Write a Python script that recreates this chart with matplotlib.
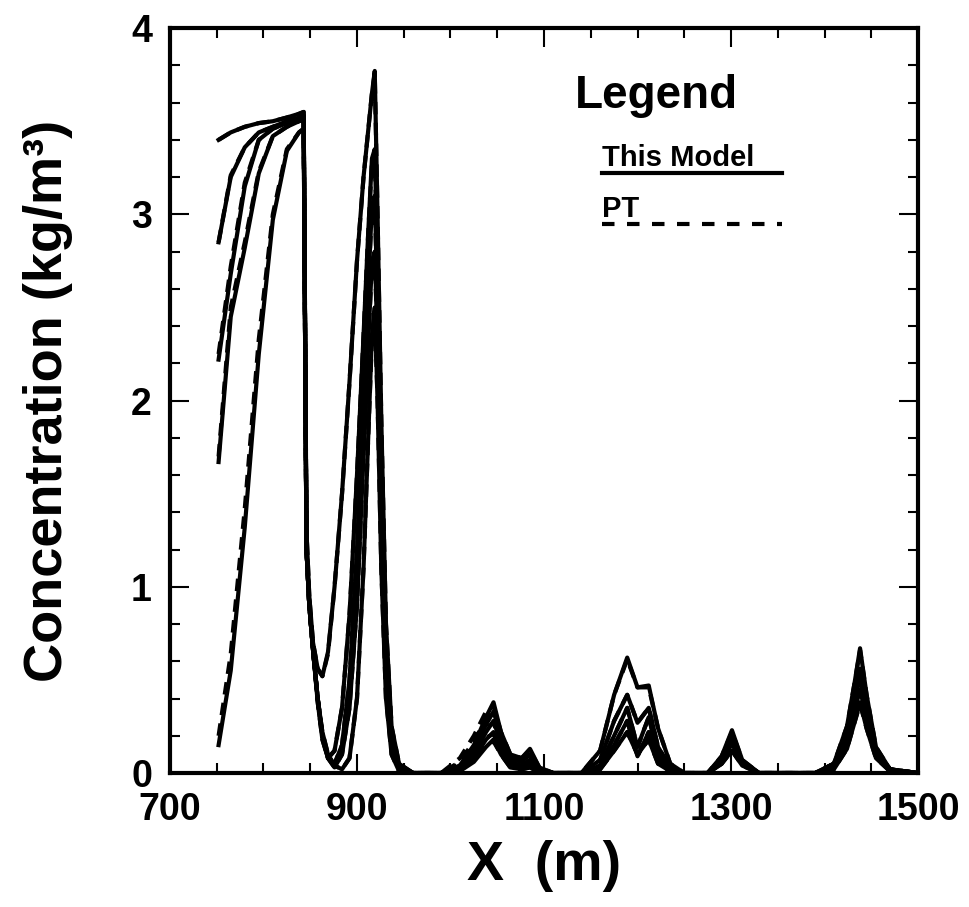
import matplotlib
matplotlib.use("Agg")
import matplotlib.pyplot as plt
from matplotlib.ticker import MultipleLocator

plt.rcParams['font.family'] = ['Liberation Sans', 'DejaVu Sans']
plt.rcParams['font.weight'] = 'bold'

x_left = [752, 765, 780, 795, 810, 825, 838, 843, 846, 849, 853, 858, 863, 869,
          876, 884, 892, 900, 907, 912, 916, 919, 922, 926, 931, 937, 945, 960]
x_right = [990, 1010, 1025, 1038, 1046, 1054, 1064, 1076, 1085, 1095, 1110, 1140,
           1160, 1175, 1189, 1200, 1212, 1222, 1235, 1250, 1275, 1290, 1301, 1312,
           1330, 1390, 1410, 1424, 1432, 1438, 1445, 1455, 1470, 1500]
x = x_left + x_right

# concentration (kg/m3), "This Model"
model_1 = [3.40, 3.44, 3.47, 3.49, 3.50, 3.52, 3.54, 3.55, 1.30, 0.95, 0.70, 0.56, 0.52, 0.65,
           1.00, 1.50, 2.10, 2.75, 3.20, 3.45, 3.65, 3.77, 3.00, 1.90, 0.80, 0.25, 0.05, 0.00] + \
          [0.00, 0.04, 0.15, 0.30, 0.38, 0.22, 0.10, 0.08, 0.13, 0.03, 0.00, 0.00,
           0.12, 0.42, 0.62, 0.46, 0.47, 0.24, 0.05, 0.00, 0.00, 0.05, 0.12, 0.04,
           0.00, 0.00, 0.05, 0.22, 0.40, 0.52, 0.34, 0.12, 0.02, 0.00]
model_2 = [2.85, 3.20, 3.36, 3.44, 3.47, 3.50, 3.52, 3.53, 1.20, 0.90, 0.66, 0.38, 0.18, 0.08,
           0.12, 0.35, 0.85, 1.60, 2.35, 2.90, 3.30, 3.35, 2.70, 1.70, 0.70, 0.20, 0.04, 0.00] + \
          [0.00, 0.03, 0.12, 0.26, 0.33, 0.20, 0.08, 0.06, 0.10, 0.02, 0.00, 0.00,
           0.07, 0.28, 0.42, 0.27, 0.35, 0.14, 0.03, 0.00, 0.00, 0.08, 0.18, 0.06,
           0.00, 0.00, 0.05, 0.25, 0.48, 0.67, 0.42, 0.14, 0.02, 0.00]
model_3 = [2.22, 2.68, 3.15, 3.40, 3.46, 3.49, 3.51, 3.52, 1.20, 0.90, 0.66, 0.40, 0.20, 0.08,
           0.05, 0.15, 0.50, 1.20, 2.00, 2.60, 3.05, 3.10, 2.50, 1.50, 0.60, 0.18, 0.03, 0.00] + \
          [0.00, 0.02, 0.10, 0.22, 0.28, 0.16, 0.06, 0.04, 0.07, 0.01, 0.00, 0.00,
           0.04, 0.20, 0.35, 0.14, 0.30, 0.10, 0.02, 0.00, 0.00, 0.09, 0.23, 0.07,
           0.00, 0.00, 0.04, 0.20, 0.40, 0.56, 0.36, 0.12, 0.02, 0.00]
model_4 = [1.67, 2.45, 2.82, 3.22, 3.42, 3.47, 3.50, 3.51, 1.20, 0.90, 0.66, 0.40, 0.20, 0.08,
           0.03, 0.10, 0.35, 0.90, 1.70, 2.30, 2.75, 2.80, 2.30, 1.40, 0.55, 0.15, 0.03, 0.00] + \
          [0.00, 0.02, 0.08, 0.18, 0.22, 0.12, 0.04, 0.03, 0.05, 0.01, 0.00, 0.00,
           0.03, 0.15, 0.28, 0.09, 0.22, 0.07, 0.01, 0.00, 0.00, 0.07, 0.20, 0.06,
           0.00, 0.00, 0.03, 0.16, 0.33, 0.45, 0.29, 0.10, 0.01, 0.00]
model_5 = [0.15, 0.55, 1.32, 2.25, 2.97, 3.34, 3.44, 3.46, 1.20, 0.90, 0.66, 0.40, 0.22, 0.10,
           0.04, 0.02, 0.08, 0.40, 1.10, 1.80, 2.35, 2.50, 2.00, 1.10, 0.40, 0.10, 0.01, 0.00] + \
          [0.00, 0.01, 0.06, 0.14, 0.18, 0.10, 0.03, 0.02, 0.03, 0.00, 0.00, 0.00,
           0.02, 0.12, 0.22, 0.10, 0.18, 0.05, 0.01, 0.00, 0.00, 0.05, 0.16, 0.05,
           0.00, 0.00, 0.02, 0.13, 0.27, 0.38, 0.24, 0.08, 0.01, 0.00]

# concentration (kg/m3), "PT"
pt_1 = [3.40, 3.44, 3.47, 3.49, 3.50, 3.52, 3.54, 3.55, 1.30, 0.95, 0.70, 0.56, 0.52, 0.64,
        1.00, 1.50, 2.10, 2.75, 3.20, 3.45, 3.65, 3.76, 3.00, 1.90, 0.80, 0.25, 0.05, 0.00] + \
       [0.00, 0.08, 0.20, 0.33, 0.36, 0.22, 0.10, 0.08, 0.12, 0.03, 0.00, 0.00,
        0.12, 0.42, 0.61, 0.46, 0.46, 0.24, 0.05, 0.00, 0.00, 0.05, 0.12, 0.04,
        0.00, 0.00, 0.05, 0.22, 0.40, 0.51, 0.34, 0.12, 0.02, 0.00]
pt_2 = [2.85, 3.21, 3.36, 3.44, 3.47, 3.50, 3.52, 3.53, 1.20, 0.90, 0.66, 0.38, 0.18, 0.08,
        0.12, 0.35, 0.85, 1.60, 2.35, 2.90, 3.28, 3.33, 2.70, 1.70, 0.70, 0.20, 0.04, 0.00] + \
       [0.00, 0.06, 0.17, 0.29, 0.32, 0.20, 0.08, 0.06, 0.10, 0.02, 0.00, 0.00,
        0.07, 0.28, 0.42, 0.27, 0.35, 0.14, 0.03, 0.00, 0.00, 0.08, 0.18, 0.06,
        0.00, 0.00, 0.05, 0.25, 0.48, 0.66, 0.42, 0.14, 0.02, 0.00]
pt_3 = [2.25, 2.72, 3.17, 3.40, 3.46, 3.49, 3.51, 3.52, 1.20, 0.90, 0.66, 0.40, 0.20, 0.08,
        0.05, 0.15, 0.50, 1.20, 2.00, 2.60, 3.03, 3.08, 2.50, 1.50, 0.60, 0.18, 0.03, 0.00] + \
       [0.00, 0.05, 0.14, 0.24, 0.27, 0.16, 0.06, 0.04, 0.07, 0.01, 0.00, 0.00,
        0.04, 0.20, 0.35, 0.14, 0.30, 0.10, 0.02, 0.00, 0.00, 0.09, 0.22, 0.07,
        0.00, 0.00, 0.04, 0.20, 0.40, 0.55, 0.36, 0.12, 0.02, 0.00]
pt_4 = [1.70, 2.50, 2.85, 3.23, 3.42, 3.47, 3.50, 3.51, 1.20, 0.90, 0.66, 0.40, 0.20, 0.08,
        0.03, 0.10, 0.35, 0.90, 1.70, 2.30, 2.73, 2.78, 2.30, 1.40, 0.55, 0.15, 0.03, 0.00] + \
       [0.00, 0.04, 0.11, 0.19, 0.21, 0.12, 0.04, 0.03, 0.05, 0.01, 0.00, 0.00,
        0.03, 0.15, 0.28, 0.09, 0.22, 0.07, 0.01, 0.00, 0.00, 0.07, 0.20, 0.06,
        0.00, 0.00, 0.03, 0.16, 0.33, 0.44, 0.29, 0.10, 0.01, 0.00]
pt_5 = [0.20, 0.64, 1.42, 2.33, 3.00, 3.35, 3.44, 3.46, 1.20, 0.90, 0.66, 0.40, 0.22, 0.10,
        0.04, 0.02, 0.08, 0.40, 1.10, 1.80, 2.33, 2.48, 2.00, 1.10, 0.40, 0.10, 0.01, 0.00] + \
       [0.00, 0.03, 0.09, 0.15, 0.17, 0.10, 0.03, 0.02, 0.03, 0.00, 0.00, 0.00,
        0.02, 0.12, 0.22, 0.10, 0.18, 0.05, 0.01, 0.00, 0.00, 0.05, 0.16, 0.05,
        0.00, 0.00, 0.02, 0.13, 0.27, 0.37, 0.24, 0.08, 0.01, 0.00]

model = [model_1, model_2, model_3, model_4, model_5]
pt = [pt_1, pt_2, pt_3, pt_4, pt_5]

fig = plt.figure(figsize=(9.69, 9.07), dpi=100)
ax = fig.add_axes([0.1754, 0.1477, 0.772, 0.8213])

for y in pt:
    ax.plot(x, y, color='black', lw=3.0, ls=(0, (3, 2)))
for y in model:
    ax.plot(x, y, color='black', lw=3.0)

ax.set_xlim(700, 1500)
ax.set_ylim(0, 4)
ax.set_xticks([700, 900, 1100, 1300, 1500])
ax.set_yticks([0, 1, 2, 3, 4])
ax.xaxis.set_minor_locator(MultipleLocator(50))
ax.yaxis.set_minor_locator(MultipleLocator(0.2))
ax.tick_params(which='both', direction='in', top=True, right=True, width=1.5)
ax.tick_params(which='major', length=14, labelsize=27)
ax.tick_params(axis='x', which='major', pad=14)
ax.tick_params(axis='y', which='major', pad=13)
ax.tick_params(which='minor', length=7)
for s in ax.spines.values():
    s.set_linewidth(3)
for lab in ax.get_xticklabels() + ax.get_yticklabels():
    lab.set_fontweight('bold')

ax.set_xlabel('X  (m)', fontsize=40, fontweight='bold', labelpad=8)
ax.set_ylabel('Concentration (kg/m³)', fontsize=39, fontweight='bold', labelpad=42)

# legend drawn by hand like the original
ax.text(0.541, 0.8926, 'Legend', transform=ax.transAxes, fontsize=33, fontweight='bold')
ax.text(0.5775, 0.815, 'This Model', transform=ax.transAxes, fontsize=21, fontweight='bold')
ax.plot([0.5775, 0.818], [0.805, 0.805], transform=ax.transAxes, color='black', lw=3)
ax.text(0.5775, 0.746, 'PT', transform=ax.transAxes, fontsize=21, fontweight='bold')
ax.plot([0.5775, 0.818], [0.737, 0.737], transform=ax.transAxes, color='black', lw=3,
        ls=(0, (3, 3)))

fig.savefig('out.png', dpi=100)
